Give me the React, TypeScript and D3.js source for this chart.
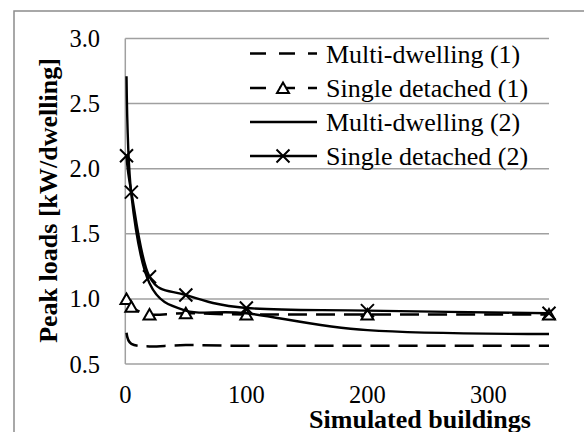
import React from "react";
import * as d3 from "d3";

const xValues = [1, 5, 20, 50, 100, 200, 350];
const multiDwelling1 = [0.74, 0.655, 0.635, 0.645, 0.64, 0.64, 0.64];
const singleDetached1 = [1.0, 0.94, 0.88, 0.89, 0.88, 0.88, 0.88];
const multiDwelling2 = [2.71, 1.8, 1.12, 0.91, 0.89, 0.76, 0.73];
const singleDetached2 = [2.1, 1.82, 1.17, 1.03, 0.93, 0.91, 0.89];
const seriesNames = ["Multi-dwelling (1)", "Single detached (1)", "Multi-dwelling (2)", "Single detached (2)"];
const yTicks = [0.5, 1.0, 1.5, 2.0, 2.5, 3.0];
const xTicks = [0, 100, 200, 300];

const W = 584;
const H = 432;
const FONT = '"Liberation Serif"';

type Marker = "none" | "triangle" | "cross";
interface Series {
  name: string;
  values: number[];
  dash: string | undefined;
  marker: Marker;
}

const series: Series[] = [
  { name: seriesNames[0], values: multiDwelling1, dash: "19,9", marker: "none" },
  { name: seriesNames[1], values: singleDetached1, dash: "19,9", marker: "triangle" },
  { name: seriesNames[2], values: multiDwelling2, dash: undefined, marker: "none" },
  { name: seriesNames[3], values: singleDetached2, dash: undefined, marker: "cross" },
];

const textStyle: React.CSSProperties = { fontFamily: FONT };

function MarkerShape({ type, x, y }: { type: Marker; x: number; y: number }) {
  if (type === "triangle") {
    const p = `${x},${y - 5.5} ${x + 6},${y + 5} ${x - 6},${y + 5}`;
    return <polygon points={p} fill="#fff" stroke="#000" strokeWidth={2} />;
  }
  if (type === "cross") {
    const s = 6.5;
    return (
      <path
        d={`M${x - s},${y - s}L${x + s},${y + s}M${x - s},${y + s}L${x + s},${y - s}`}
        stroke="#000"
        strokeWidth={2}
        fill="none"
      />
    );
  }
  return null;
}

export default function App() {
  const x = d3.scaleLinear().domain([0, 350]).range([125.3, 549]);
  const y = d3.scaleLinear().domain([0.5, 3.0]).range([364, 38.5]);
  const line = d3
    .line<number>()
    .x((_, i) => x(xValues[i]))
    .y((d) => y(d))
    .curve(d3.curveCatmullRom.alpha(0));

  const legendY = [53.5, 88, 122, 156];

  return (
    <svg
      width={W}
      height={H}
      style={{ position: "absolute", left: 0, top: 0, background: "#fff" }}
    >
      <rect x={0} y={0} width={W} height={H} fill="#fff" />
      <rect x={14} y={11} width={620} height={460} fill="none" stroke="#8c8c8c" strokeWidth={1.5} />

      {yTicks.map((t) => (
        <line key={"g" + t} x1={x(0)} x2={x(350)} y1={y(t)} y2={y(t)} stroke="#a0a0a0" strokeWidth={1.5} />
      ))}
      <line x1={x(0)} x2={x(0)} y1={y(3.0)} y2={y(0.5)} stroke="#a0a0a0" strokeWidth={1.5} />

      {yTicks.map((t) => (
        <text key={"yt" + t} x={100} y={y(t) + 8.5} textAnchor="end" fontSize={24.5} fill="#000" style={textStyle}>
          {t.toFixed(1)}
        </text>
      ))}
      {xTicks.map((t) => (
        <text key={"xt" + t} x={x(t)} y={403} textAnchor="middle" fontSize={24.5} fill="#000" style={textStyle}>
          {t}
        </text>
      ))}

      <text x={420} y={428} textAnchor="middle" fontSize={26} fontWeight="bold" fill="#000" style={textStyle}>
        Simulated buildings
      </text>
      <text
        transform={`translate(57,200.5) rotate(-90)`}
        textAnchor="middle"
        fontSize={26}
        fontWeight="bold"
        fill="#000"
        style={textStyle}
      >
        Peak loads [kW/dwelling]
      </text>

      {series.map((s) => (
        <g key={s.name}>
          <path
            d={line(s.values) || ""}
            fill="none"
            stroke="#000"
            strokeWidth={s.dash ? 2.5 : 2.4}
            strokeDasharray={s.dash}
          />
          {s.values.map((v, i) => (
            <MarkerShape key={i} type={s.marker} x={x(xValues[i])} y={y(v)} />
          ))}
        </g>
      ))}

      {series.map((s, i) => (
        <g key={"lg" + s.name}>
          <line
            x1={250}
            x2={317}
            y1={legendY[i]}
            y2={legendY[i]}
            stroke="#000"
            strokeWidth={s.dash ? 2.5 : 2.4}
            strokeDasharray={s.dash ? "16,13" : undefined}
          />
          <MarkerShape type={s.marker} x={283} y={legendY[i]} />
          <text x={326} y={legendY[i] + 9} fontSize={26} fill="#000" style={textStyle}>
            {s.name}
          </text>
        </g>
      ))}
    </svg>
  );
}
